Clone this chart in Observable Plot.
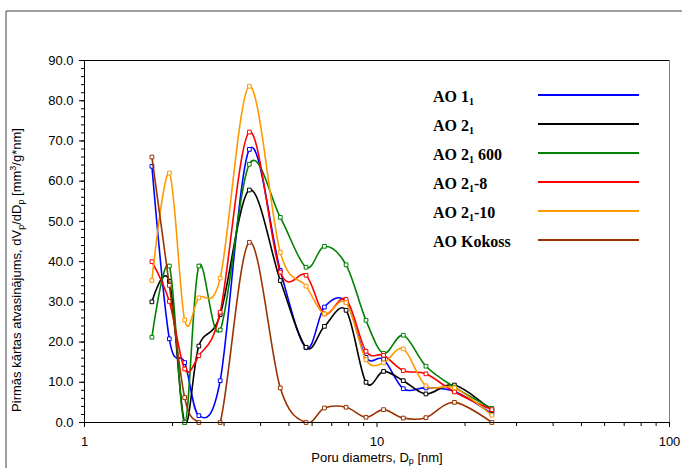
<!DOCTYPE html>
<html>
<head>
<meta charset="utf-8">
<script src="https://cdn.jsdelivr.net/npm/d3@7"></script>
<script src="https://cdn.jsdelivr.net/npm/@observablehq/plot@0.6"></script>
<style>
  body { margin: 0; background: #fff; }
  #wrap { position: relative; width: 682px; height: 468px; overflow: hidden; }
</style>
</head>
<body>
<div id="wrap"></div>
<script>
// Pore diameters (nm) at which the curves are sampled
const diameters = [1.70, 1.95, 2.20, 2.46, 2.91, 3.66, 4.67, 5.72, 6.61, 7.84, 9.17, 10.53, 12.3, 14.7, 18.4, 24.7];

// dVp/dDp values per sample
const ao1_1     = [63.7, 20.8, 14.9, 1.7, 10.4, 67.9, 37.8, 18.6, 28.7, 30.0, 16.2, 15.7, 8.4, 8.6, 7.7, 2.2];
const ao2_1     = [30.0, 35.1, 0.0, 19.0, 26.8, 57.8, 35.3, 18.7, 23.9, 27.9, 10.0, 12.7, 10.4, 7.1, 9.3, 3.0];
const ao2_1_600 = [21.2, 38.9, 0.0, 38.9, 23.0, 64.2, 51.0, 38.6, 43.8, 39.2, 25.4, 17.2, 21.7, 14.0, 8.8, 3.5];
const ao2_1_8   = [40.0, 30.1, 13.3, 16.6, 27.4, 72.2, 37.4, 36.6, 27.0, 30.6, 17.7, 16.7, 12.9, 12.1, 7.6, 3.2];
const ao2_1_10  = [35.3, 62.0, 25.5, 31.0, 35.9, 83.6, 42.3, 33.9, 27.0, 29.8, 15.6, 14.8, 18.3, 9.1, 8.6, 1.8];
const aoKokoss  = [66.0, 34.1, 6.2, 0.0, 0.0, 44.8, 8.6, 0.0, 3.6, 3.8, 1.3, 3.2, 1.1, 1.2, 5.0, 0.0];

// Series names (legend: main text, subscript, suffix)
const seriesNames   = ["AO 1₁", "AO 2₁", "AO 2₁ 600", "AO 2₁-8", "AO 2₁-10", "AO Kokoss"];
const legendMain    = ["AO 1", "AO 2", "AO 2", "AO 2", "AO 2", "AO Kokoss"];
const legendSub     = ["1", "1", "1", "1", "1", ""];
const legendSuffix  = ["", "", " 600", "-8", "-10", ""];
const seriesValues  = [ao1_1, ao2_1, ao2_1_600, ao2_1_8, ao2_1_10, aoKokoss];
const seriesColors  = ["#0000ff", "#000000", "#008000", "#ff0000", "#ff9900", "#993300"];

// Axis ticks
const yTicks = [0, 10, 20, 30, 40, 50, 60, 70, 80, 90];
const yMinorTicks = d3.range(0, 91, 2);
const xTicks = [1, 10, 100];
const xMinorTicks = [2, 3, 4, 5, 6, 7, 8, 9, 20, 30, 40, 50, 60, 70, 80, 90];

const rows = seriesNames.flatMap((s, i) =>
  diameters.map((d, j) => ({series: s, d, v: seriesValues[i][j]}))
);

const marks = [
  Plot.frame({stroke: "#808080"}),
  Plot.ruleY([90], {stroke: "#000"}),
  Plot.axisY({ticks: yMinorTicks, tickSize: 3, tickFormat: () => "", label: null}),
  Plot.axisY({ticks: yTicks, tickSize: 5, tickPadding: 6, tickFormat: d3.format(".1f"), label: null}),
  Plot.axisX({ticks: xMinorTicks, tickSize: 4, tickFormat: () => "", label: null}),
  Plot.axisX({ticks: xTicks, tickSize: 5, tickPadding: 9, tickFormat: d => String(d), label: null})
];
seriesNames.forEach(s => {
  const data = rows.filter(r => r.series === s);
  marks.push(Plot.line(data, {x: "d", y: "v", stroke: "series", curve: "cardinal", tension: 0, strokeWidth: 1.6, clip: true}));
  marks.push(Plot.dot(data, {x: "d", y: "v", stroke: "series", symbol: "square", r: 2.1, fill: "white", strokeWidth: 1}));
});
marks.push(Plot.ruleY([0], {stroke: "#000"}), Plot.ruleX([1], {stroke: "#000"}));

const chart = Plot.plot({
  width: 682,
  height: 468,
  marginLeft: 84,
  marginRight: 13,
  marginTop: 60,
  marginBottom: 46,
  style: {fontFamily: "'Liberation Sans', Arial, sans-serif", fontSize: "13px", color: "#000", background: "#fff"},
  x: {type: "log", domain: [1, 100]},
  y: {domain: [0, 90]},
  color: {domain: seriesNames, range: seriesColors},
  marks
});
document.getElementById("wrap").appendChild(chart);

const svg = d3.select(chart);

// Chart-area border (top and left visible)
svg.append("path").attr("d", "M6,468V11H682").attr("fill", "none").attr("stroke", "#404040").attr("stroke-width", 1);

// Legend
const lg = svg.append("g").attr("font-family", "'Liberation Serif','Times New Roman',serif")
  .attr("font-weight", "bold").attr("font-size", 16).attr("text-anchor", "start").style("white-space", "pre");
seriesNames.forEach((s, i) => {
  const y = 95 + i * 29;
  lg.append("line").attr("x1", 538).attr("x2", 639).attr("y1", y).attr("y2", y)
    .attr("stroke", seriesColors[i]).attr("stroke-width", 2.2);
  const t = lg.append("text").attr("x", 433).attr("y", y + 6.5).attr("fill", "#000");
  t.append("tspan").text(legendMain[i]);
  if (legendSub[i]) {
    t.append("tspan").attr("font-size", 10).attr("dy", 3).text(legendSub[i]);
    if (legendSuffix[i]) t.append("tspan").attr("dy", -3).text(legendSuffix[i]);
  }
});

// Axis titles
const xt = svg.append("text").attr("x", 377).attr("y", 462).attr("text-anchor", "middle")
  .attr("font-family", "'Liberation Sans', Arial, sans-serif").attr("font-size", 13).attr("fill", "#000")
  .style("white-space", "pre");
xt.append("tspan").text("Poru diametrs, D");
xt.append("tspan").attr("font-size", 9).attr("dy", 2).text("p");
xt.append("tspan").attr("dy", -2).text(" [nm]");

const yt = svg.append("text").attr("transform", "translate(21,270) rotate(-90)").attr("text-anchor", "middle")
  .attr("font-family", "'Liberation Sans', Arial, sans-serif").attr("font-size", 13).attr("fill", "#000")
  .style("white-space", "pre");
yt.append("tspan").text("Pirmās kārtas atvasinājums, dV");
yt.append("tspan").attr("font-size", 9).attr("dy", 3).text("p");
yt.append("tspan").attr("dy", -3).text("/dD");
yt.append("tspan").attr("font-size", 9).attr("dy", 3).text("p");
yt.append("tspan").attr("dy", -3).text(" [mm");
yt.append("tspan").attr("font-size", 9).attr("dy", -5).text("3");
yt.append("tspan").attr("dy", 5).text("/g*nm]");
</script>
</body>
</html>
